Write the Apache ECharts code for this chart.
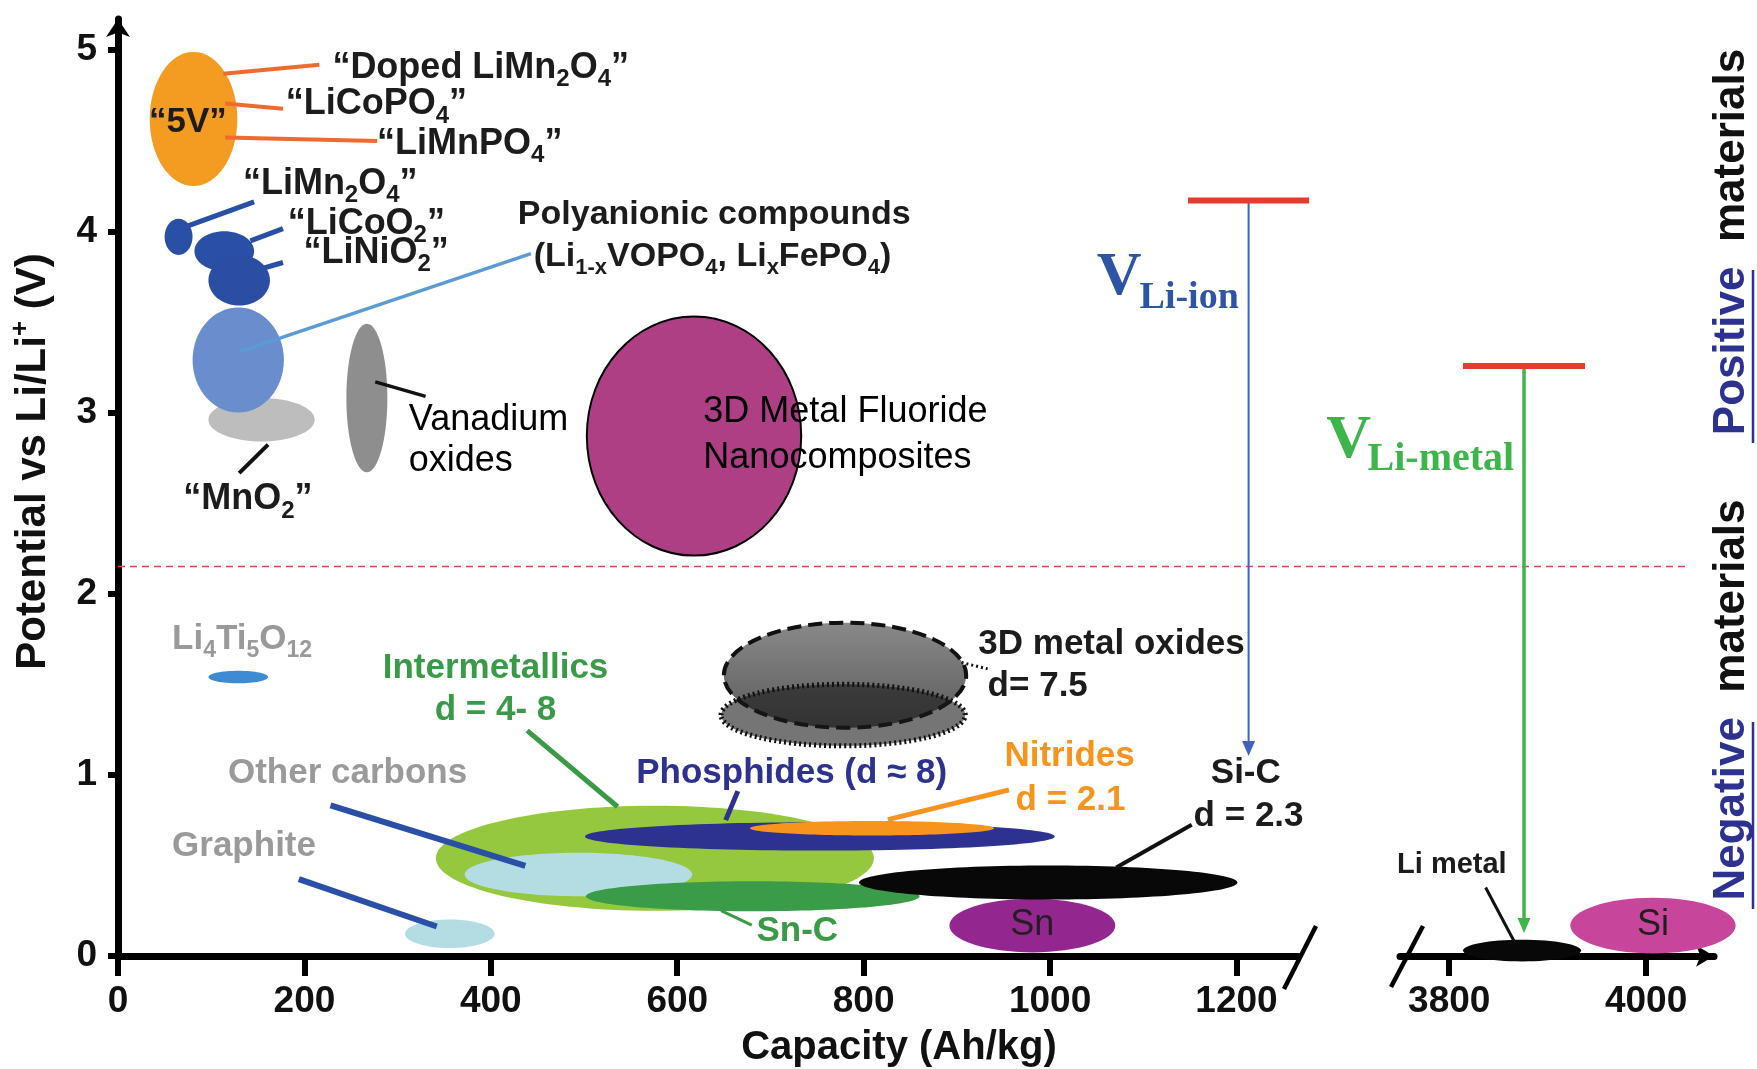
<!DOCTYPE html>
<html>
<head>
<meta charset="utf-8">
<title>Electrode materials: potential vs capacity</title>
<script src="https://cdn.jsdelivr.net/npm/echarts@6.0.0/dist/echarts.min.js"></script>
<style>
html, body { margin: 0; padding: 0; background: #ffffff; }
#chart { width: 1757px; height: 1069px; }
</style>
</head>
<body>
<div id="chart"></div>
<script>
// ---------- axis ticks ----------
const capacityTicksLow = [0, 200, 400, 600, 800, 1000, 1200];
const capacityTicksHigh = [3800, 4000];
const potentialTicks = [0, 1, 2, 3, 4, 5];

// ---------- electrode materials, low-capacity segment (Ah/kg, V) ----------
// each region: capacity centre and half-range, potential centre and half-range
const materialNames = [
  '5V', 'LiMn2O4', 'LiCoO2', 'LiNiO2', 'MnO2', 'Polyanionic', 'Vanadium oxides',
  '3D metal fluorides', 'Li4Ti5O12', '3D metal oxides A', '3D metal oxides B',
  'Intermetallics', 'Other carbons', 'Phosphides', 'Nitrides', 'Sn-C', 'Sn', 'Si-C', 'Graphite'
];
const capacityMid   = [81, 65, 114, 130, 154, 129, 267, 618, 129, 780, 778, 576, 494, 753, 809, 681, 981, 998, 356];
const capacityHalf  = [47, 15, 32, 33, 57, 49, 22, 115, 32, 130, 131, 235, 122, 252, 131, 179, 89, 203, 48];
const potentialMid  = [4.62, 3.97, 3.89, 3.73, 2.96, 3.29, 3.08, 2.87, 1.54, 1.55, 1.33, 0.54, 0.45, 0.66, 0.705, 0.33, 0.168, 0.406, 0.123];
const potentialHalf = [0.37, 0.10, 0.11, 0.14, 0.12, 0.29, 0.41, 0.66, 0.035, 0.29, 0.17, 0.29, 0.12, 0.078, 0.04, 0.083, 0.148, 0.094, 0.079];

// ---------- high-capacity segment ----------
const metalNames = ['Li metal', 'Si'];
const metalCapacityMid  = [3874, 4007];
const metalCapacityHalf = [60, 84];
const metalPotentialMid  = [0.03, 0.168];
const metalPotentialHalf = [0.06, 0.154];

// ---------- cell voltage references ----------
const cellNames = ['Li-ion', 'Li-metal'];
const cellCapacity = [1213, 3876];
const cellTopPotential = [4.17, 3.257];
const cellBottomPotential = [1.104, 0.127];
const cellBarHalf = [65, 62];

// boundary between positive and negative materials (V)
const boundaryPotential = 2.15;

const FONT = "'Liberation Sans', Arial, Helvetica, sans-serif";
const SERIF = "'Liberation Serif', 'Times New Roman', serif";
const INK = '#1c1c1c';
const GREY = '#9a9a9a';
const GREEN = '#3a9a47';
const NAVY = '#2d3290';
const ORANGE = '#f7941d';

const regionStyle = {
  '5V': { fill: '#f49b22' },
  'LiMn2O4': { fill: '#2a4fa6' },
  'LiCoO2': { fill: '#2a4fa6' },
  'LiNiO2': { fill: '#2b4ea4' },
  'MnO2': { fill: '#bdbdbd' },
  'Polyanionic': { fill: '#6a8ecd' },
  'Vanadium oxides': { fill: '#8e8e8e' },
  '3D metal fluorides': { fill: '#ae3f85', stroke: '#000', lineWidth: 2 },
  'Li4Ti5O12': { fill: '#3e8bd5' },
  '3D metal oxides A': {
    fill: { type: 'linear', x: 0, y: 0, x2: 0, y2: 1,
      colorStops: [{ offset: 0, color: '#8a8a8a' }, { offset: 1, color: '#5a5a5a' }] },
    stroke: '#111', lineWidth: 4, lineDash: [14, 7]
  },
  '3D metal oxides B': { fill: 'rgba(25,25,25,0.6)', stroke: '#111', lineWidth: 5, lineDash: [2, 3] },
  'Intermetallics': { fill: '#95c83f' },
  'Other carbons': { fill: '#b4dce3' },
  'Phosphides': { fill: '#2d3290' },
  'Nitrides': { fill: '#f7941d' },
  'Sn-C': { fill: '#3a9c48' },
  'Sn': { fill: '#93278f' },
  'Si-C': { fill: '#080808' },
  'Graphite': { fill: '#b4dce3' },
  'Li metal': { fill: '#080808' },
  'Si': { fill: '#c8459c' }
};

// text annotations (anchor in data units); {s|..} marks subscripts
const labelsLow = [
  { text: '“Doped LiMn{s|2}O{s|4}”', x: 230, y: 4.90, size: 36 },
  { text: '“LiCoPO{s|4}”', x: 180, y: 4.70, size: 36 },
  { text: '“LiMnPO{s|4}”', x: 278, y: 4.48, size: 36 },
  { text: '“LiMn{s|2}O{s|4}”', x: 134, y: 4.26, size: 36 },
  { text: '“LiCoO{s|2}”', x: 182, y: 4.04, size: 36 },
  { text: '“LiNiO{s|2}”', x: 199, y: 3.88, size: 36 },
  { text: '“5V”', x: 75, y: 4.60, align: 'center' },
  { text: 'Polyanionic compounds', x: 429, y: 4.09, size: 34 },
  { text: '(Li{s|1-x}VOPO{s|4}, Li{s|x}FePO{s|4})', x: 446, y: 3.86, size: 34 },
  { text: 'Vanadium', x: 312, y: 2.96, size: 36, weight: 'normal', color: '#000' },
  { text: 'oxides', x: 312, y: 2.73, size: 36, weight: 'normal', color: '#000' },
  { text: '“MnO{s|2}”', x: 70, y: 2.52, size: 36 },
  { text: '3D Metal Fluoride', x: 628, y: 3.00, size: 36, weight: 'normal', color: '#000' },
  { text: 'Nanocomposites', x: 628, y: 2.75, size: 36, weight: 'normal', color: '#000' },
  { text: 'Li{s|4}Ti{s|5}O{s|12}', x: 58, y: 1.75, color: GREY },
  { text: 'Intermetallics', x: 405, y: 1.59, align: 'center', color: GREEN },
  { text: 'd = 4- 8', x: 405, y: 1.355, align: 'center', color: GREEN },
  { text: 'Other carbons', x: 118, y: 1.01, color: GREY },
  { text: 'Graphite', x: 58, y: 0.605, color: GREY },
  { text: 'Phosphides (d ≈ 8)', x: 556, y: 1.01, color: NAVY },
  { text: 'Nitrides', x: 951, y: 1.10, color: ORANGE },
  { text: 'd = 2.1', x: 963, y: 0.86, color: ORANGE },
  { text: '3D metal oxides', x: 923, y: 1.72 },
  { text: 'd= 7.5', x: 933, y: 1.49 },
  { text: 'Si-C', x: 1210, y: 1.01, align: 'center' },
  { text: 'd = 2.3', x: 1154, y: 0.77 },
  { text: 'Sn-C', x: 685, y: 0.137, color: GREEN },
  { text: 'Sn', x: 981, y: 0.168, align: 'center', size: 36, weight: 'normal', color: '#231f20' },
  { text: 'V', x: 1050, y: 3.74, size: 62, family: SERIF, color: '#2e55a5' },
  { text: 'Li-ion', x: 1096, y: 3.63, size: 38, family: SERIF, color: '#2e55a5' }
];
const labelsHigh = [
  { text: 'Li metal', x: 3747, y: 0.50, size: 29 },
  { text: 'Si', x: 4007, y: 0.168, align: 'center', size: 36, weight: 'normal', color: '#231f20' },
  { text: 'V', x: 3675, y: 2.84, size: 62, family: SERIF, color: '#3db54a' },
  { text: 'Li-metal', x: 3717, y: 2.74, size: 40, family: SERIF, color: '#3db54a' }
];

// leader lines from labels to regions
const leadersLow = [
  { x1: 113, y1: 4.87, x2: 216, y2: 4.92, color: '#ee6a2f', width: 4 },
  { x1: 115, y1: 4.705, x2: 177, y2: 4.676, color: '#ee6a2f', width: 4 },
  { x1: 115, y1: 4.518, x2: 278, y2: 4.499, color: '#ee6a2f', width: 4 },
  { x1: 67, y1: 4.015, x2: 146, y2: 4.163, color: '#2a4fa6', width: 5 },
  { x1: 142, y1: 3.947, x2: 177, y2: 4.015, color: '#2a4fa6', width: 5 },
  { x1: 144, y1: 3.779, x2: 177, y2: 3.828, color: '#2a4fa6', width: 5 },
  { x1: 130, y1: 3.335, x2: 443, y2: 3.877, color: '#5b9bd5', width: 3.5 },
  { x1: 276, y1: 3.169, x2: 330, y2: 3.089, color: '#111', width: 3.5 },
  { x1: 161, y1: 2.823, x2: 130, y2: 2.665, color: '#111', width: 4 },
  { x1: 905, y1: 1.62, x2: 933, y2: 1.585, color: '#111', width: 3, dash: [2, 3] },
  { x1: 439, y1: 1.244, x2: 536, y2: 0.824, color: GREEN, width: 5 },
  { x1: 228, y1: 0.832, x2: 437, y2: 0.498, color: '#2a4fa6', width: 6 },
  { x1: 194, y1: 0.424, x2: 342, y2: 0.163, color: '#2a4fa6', width: 6 },
  { x1: 665, y1: 0.91, x2: 652, y2: 0.75, color: NAVY, width: 5 },
  { x1: 826, y1: 0.753, x2: 956, y2: 0.917, color: ORANGE, width: 5 },
  { x1: 647, y1: 0.25, x2: 680, y2: 0.17, color: GREEN, width: 3 },
  { x1: 1071, y1: 0.489, x2: 1152, y2: 0.724, color: '#111', width: 4 }
];
const leadersHigh = [
  { x1: 3837, y1: 0.378, x2: 3867, y2: 0.07, color: '#111', width: 3 }
];

// ---------- rendering helpers ----------
function regionRenderer(names) {
  return function (params, api) {
    const c = api.coord([api.value(0), api.value(1)]);
    const s = api.size([api.value(2), api.value(3)]);
    const st = regionStyle[names[params.dataIndex]];
    return {
      type: 'ellipse',
      shape: { cx: c[0], cy: c[1], rx: s[0], ry: s[1] },
      style: Object.assign({}, st)
    };
  };
}

function labelRenderer(list) {
  return function (params, api) {
    const L = list[params.dataIndex];
    const p = api.coord([L.x, L.y]);
    const size = L.size || 35;
    const sub = Math.round(size * 0.66);
    const weight = L.weight || 'bold';
    const family = L.family || FONT;
    const color = L.color || INK;
    return {
      type: 'text', x: p[0], y: p[1],
      style: {
        text: L.text, fill: color, fontSize: size, fontWeight: weight, fontFamily: family,
        align: L.align || 'left', verticalAlign: 'middle', lineHeight: Math.round(size * 1.3),
        rich: {
          s: { fontSize: sub, fontWeight: weight, fontFamily: family, fill: color,
               verticalAlign: 'bottom', lineHeight: sub }
        }
      }
    };
  };
}

function leaderRenderer(list) {
  return function (params, api) {
    const L = list[params.dataIndex];
    const a = api.coord([L.x1, L.y1]);
    const b = api.coord([L.x2, L.y2]);
    return {
      type: 'line',
      shape: { x1: a[0], y1: a[1], x2: b[0], y2: b[1] },
      style: { stroke: L.color, lineWidth: L.width, lineDash: L.dash || null }
    };
  };
}

const cellColors = ['#4262bf', '#3db54a'];
const cellWidths = [2, 3.5];
function cellRenderer(idx) {
  return function (params, api) {
    const cap = api.value(0), vTop = api.value(1), vBot = api.value(2), half = api.value(3);
    const top = api.coord([cap, vTop]);
    const bot = api.coord([cap, vBot]);
    const l = api.coord([cap - half, vTop]);
    const r = api.coord([cap + half, vTop]);
    const col = cellColors[idx];
    return {
      type: 'group',
      children: [
        { type: 'line', shape: { x1: top[0], y1: top[1], x2: bot[0], y2: bot[1] - 10 },
          style: { stroke: col, lineWidth: cellWidths[idx] } },
        { type: 'polygon', shape: { points: [[bot[0] - 6.5, bot[1] - 15], [bot[0] + 6.5, bot[1] - 15], [bot[0], bot[1]]] },
          style: { fill: col } },
        { type: 'line', shape: { x1: l[0], y1: l[1], x2: r[0], y2: r[1] },
          style: { stroke: '#e63b2e', lineWidth: 6 } }
      ]
    };
  };
}

const axisLineStyle = { color: '#000', width: 7 };
const tickLabelStyle = {
  fontSize: 37, fontWeight: 'bold', fontFamily: FONT, color: '#111',
  formatter: v => String(v)
};

const option = {
  animation: false,
  backgroundColor: '#ffffff',
  grid: [
    { left: 118, top: 19, width: 1180, height: 937 },
    { left: 1400, top: 19, width: 314, height: 937 }
  ],
  xAxis: [
    {
      gridIndex: 0, type: 'value', min: 0, max: 1266,
      axisLine: { show: true, onZero: false, lineStyle: axisLineStyle },
      axisTick: { show: true, length: 20, lineStyle: { color: '#000', width: 6 }, customValues: capacityTicksLow },
      axisLabel: Object.assign({ customValues: capacityTicksLow, margin: 27 }, tickLabelStyle),
      splitLine: { show: false }
    },
    {
      gridIndex: 1, type: 'value', min: 3750, max: 4069,
      axisLine: { show: true, onZero: false, lineStyle: axisLineStyle, symbol: ['none', 'arrow'], symbolSize: [16, 18] },
      axisTick: { show: true, length: 20, lineStyle: { color: '#000', width: 6 }, customValues: capacityTicksHigh },
      axisLabel: Object.assign({ customValues: capacityTicksHigh, margin: 27 }, tickLabelStyle),
      splitLine: { show: false }
    }
  ],
  yAxis: [
    {
      gridIndex: 0, type: 'value', min: 0, max: 5.172,
      name: 'Potential vs Li/Li{sup|+} (V)', nameLocation: 'middle', nameRotate: 90, nameGap: 60,
      nameTextStyle: {
        fontSize: 42, fontWeight: 'bold', fontFamily: FONT, color: '#111', lineHeight: 50,
        padding: [0, 0, 0, 52],
        rich: { sup: { fontSize: 26, fontWeight: 'bold', fontFamily: FONT, color: '#111', verticalAlign: 'top', lineHeight: 26 } }
      },
      axisLine: { show: true, onZero: false, lineStyle: axisLineStyle, symbol: ['none', 'arrow'], symbolSize: [18, 18] },
      axisTick: { show: true, length: 10, lineStyle: { color: '#000', width: 6 }, customValues: potentialTicks },
      axisLabel: Object.assign({ customValues: potentialTicks, margin: 21 }, tickLabelStyle),
      splitLine: { show: false }
    },
    { gridIndex: 1, type: 'value', min: 0, max: 5.172, show: false }
  ],
  series: [
    {
      name: 'materials', type: 'custom', xAxisIndex: 0, yAxisIndex: 0, clip: false, silent: true, z: 2,
      encode: { x: 0, y: 1 },
      data: materialNames.map((n, i) => [capacityMid[i], potentialMid[i], capacityHalf[i], potentialHalf[i]]),
      renderItem: regionRenderer(materialNames)
    },
    {
      name: 'metals', type: 'custom', xAxisIndex: 1, yAxisIndex: 1, clip: false, silent: true, z: 2,
      encode: { x: 0, y: 1 },
      data: metalNames.map((n, i) => [metalCapacityMid[i], metalPotentialMid[i], metalCapacityHalf[i], metalPotentialHalf[i]]),
      renderItem: regionRenderer(metalNames)
    },
    {
      name: cellNames[0], type: 'custom', xAxisIndex: 0, yAxisIndex: 0, clip: false, silent: true, z: 3,
      encode: { x: 0, y: 1 },
      data: [[cellCapacity[0], cellTopPotential[0], cellBottomPotential[0], cellBarHalf[0]]],
      renderItem: cellRenderer(0)
    },
    {
      name: cellNames[1], type: 'custom', xAxisIndex: 1, yAxisIndex: 1, clip: false, silent: true, z: 3,
      encode: { x: 0, y: 1 },
      data: [[cellCapacity[1], cellTopPotential[1], cellBottomPotential[1], cellBarHalf[1]]],
      renderItem: cellRenderer(1)
    },
    {
      name: 'leaders-low', type: 'custom', xAxisIndex: 0, yAxisIndex: 0, clip: false, silent: true, z: 4,
      encode: { x: 0, y: 1 },
      data: leadersLow.map(L => [L.x1, L.y1]),
      renderItem: leaderRenderer(leadersLow)
    },
    {
      name: 'leaders-high', type: 'custom', xAxisIndex: 1, yAxisIndex: 1, clip: false, silent: true, z: 4,
      encode: { x: 0, y: 1 },
      data: leadersHigh.map(L => [L.x1, L.y1]),
      renderItem: leaderRenderer(leadersHigh)
    },
    {
      name: 'labels-low', type: 'custom', xAxisIndex: 0, yAxisIndex: 0, clip: false, silent: true, z: 5,
      encode: { x: 0, y: 1 },
      data: labelsLow.map(L => [L.x, L.y]),
      renderItem: labelRenderer(labelsLow)
    },
    {
      name: 'labels-high', type: 'custom', xAxisIndex: 1, yAxisIndex: 1, clip: false, silent: true, z: 5,
      encode: { x: 0, y: 1 },
      data: labelsHigh.map(L => [L.x, L.y]),
      renderItem: labelRenderer(labelsHigh)
    }
  ]
};

const chart = echarts.init(document.getElementById('chart'), null, { renderer: 'canvas' });
chart.setOption(option);

// decorations that depend on both axis segments
const lowEnd = chart.convertToPixel({ gridIndex: 0 }, [1266, 0]);
const highStart = chart.convertToPixel({ gridIndex: 1 }, [3750, 0]);
const bStart = chart.convertToPixel({ gridIndex: 0 }, [0, boundaryPotential]);
const bEnd = chart.convertToPixel({ gridIndex: 1 }, [4040, boundaryPotential]);

const sideFont = { fontSize: 44, fontWeight: 'bold', fontFamily: FONT };
chart.setOption({
  graphic: [
    { type: 'line', z: 1, silent: true,
      shape: { x1: bStart[0], y1: bStart[1], x2: bEnd[0], y2: bEnd[1] },
      style: { stroke: '#d64550', lineWidth: 1.5, lineDash: [7, 5] } },
    { type: 'line', z: 10, silent: true,
      shape: { x1: lowEnd[0] + 18, y1: lowEnd[1] - 30, x2: lowEnd[0] - 14, y2: lowEnd[1] + 33 },
      style: { stroke: '#000', lineWidth: 4.5 } },
    { type: 'line', z: 10, silent: true,
      shape: { x1: highStart[0] + 23, y1: highStart[1] - 30, x2: highStart[0] - 9, y2: highStart[1] + 31 },
      style: { stroke: '#000', lineWidth: 4.5 } },
    { type: 'text', z: 10, silent: true, x: 899, y: 1048,
      style: { text: 'Capacity (Ah/kg)', fill: '#111', fontSize: 40, fontWeight: 'bold', fontFamily: FONT,
               align: 'center', verticalAlign: 'middle' } },
    { type: 'text', z: 10, silent: true, x: 1732, y: 242, rotation: Math.PI / 2,
      style: Object.assign({ text: '{p|Positive}  materials', fill: '#111', align: 'center', verticalAlign: 'middle',
               rich: { p: Object.assign({ fill: NAVY }, sideFont) } }, sideFont) },
    { type: 'line', z: 10, silent: true, shape: { x1: 1753, y1: 270, x2: 1753, y2: 443 },
      style: { stroke: NAVY, lineWidth: 2.5 } },
    { type: 'text', z: 10, silent: true, x: 1732, y: 700, rotation: Math.PI / 2,
      style: Object.assign({ text: '{p|Negative}  materials', fill: '#111', align: 'center', verticalAlign: 'middle',
               rich: { p: Object.assign({ fill: NAVY }, sideFont) } }, sideFont) },
    { type: 'line', z: 10, silent: true, shape: { x1: 1753, y1: 722, x2: 1753, y2: 909 },
      style: { stroke: NAVY, lineWidth: 2.5 } }
  ]
});
</script>
</body>
</html>
